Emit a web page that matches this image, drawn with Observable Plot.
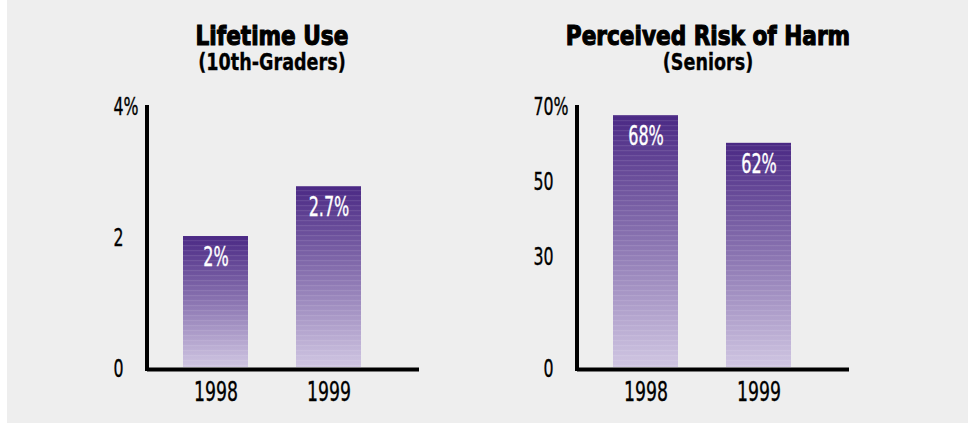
<!DOCTYPE html>
<html><head><meta charset="utf-8">
<script src="https://cdn.jsdelivr.net/npm/d3@7"></script>
<script src="https://cdn.jsdelivr.net/npm/@observablehq/plot@0.6"></script>
<style>
html,body{margin:0;padding:0;background:#fff;}
#page{position:relative;width:968px;height:424px;background:#fff;overflow:hidden;}
#bg{position:absolute;left:7px;top:0;width:961px;height:423px;background:#eeeeee;}
.panel{position:absolute;top:0;width:430px;height:424px;}
.title{position:absolute;width:600px;text-align:center;color:#000;white-space:nowrap;
  font-family:"DejaVu Sans Condensed","DejaVu Sans",sans-serif;font-stretch:condensed;font-weight:bold;transform-origin:50% 50%;}
.t1{top:21px;font-size:27px;line-height:30px;-webkit-text-stroke:1.1px #000;}
.t2{top:49px;font-size:23px;line-height:26px;-webkit-text-stroke:0.3px #000;}
</style></head>
<body>
<div id="page"><div id="bg"></div>
<svg width="0" height="0" style="position:absolute">
  <defs>
    <linearGradient id="barGrad" x1="0" y1="0" x2="0" y2="1">
      <stop offset="0" stop-color="#4a2884"/>
      <stop offset="0.5" stop-color="#8a74b1"/>
      <stop offset="1" stop-color="#d0c6e2"/>
    </linearGradient>
    <pattern id="stripes" width="8" height="5" patternUnits="userSpaceOnUse">
      <rect x="0" y="0" width="8" height="1.2" fill="#ffffff" fill-opacity="0.10"/>
    </pattern>
  </defs>
</svg>
</div>
<script>
// ---- data ----
const years = ["1998", "1999"];
const useTitle = "Lifetime Use";
const useSubtitle = "(10th-Graders)";
const useValues = [2.0, 2.76];
const useLabels = ["2%", "2.7%"];
const useTicks = [0, 2, 4];
const useMax = 4;

const riskTitle = "Perceived Risk of Harm";
const riskSubtitle = "(Seniors)";
const riskValues = [67.3, 59.9];
const riskLabels = ["68%", "62%"];
const riskTicks = [0, 30, 50, 70];
const riskMax = 70;

const FONT = '"DejaVu Sans Condensed","DejaVu Sans",sans-serif';

function squeeze(svg, label, s, color) {
  svg.querySelectorAll(`g[aria-label="${label}"] text`).forEach(el => {
    let t = el.getAttribute("transform") || "";
    const x = el.getAttribute("x");
    if (x != null && !isNaN(+x)) { t += ` translate(${x},0)`; el.removeAttribute("x"); }
    el.setAttribute("transform", t + ` scale(${s},1)`);
    el.setAttribute("stroke", color);
    el.setAttribute("stroke-width", 0.35);
  });
}

function panel(left, titleCenter, title, subtitle, values, labels, ticks, yMax) {
  const page = document.getElementById("page");
  const div = document.createElement("div");
  div.className = "panel";
  div.style.left = left + "px";
  const t1 = document.createElement("div");
  t1.className = "title t1"; t1.textContent = title;
  t1.style.left = (titleCenter - 300) + "px";
  t1.style.transform = "scaleX(0.89)";
  const t2 = document.createElement("div");
  t2.className = "title t2"; t2.textContent = subtitle;
  t2.style.left = (titleCenter - 300) + "px";
  t2.style.transform = "scaleX(0.85)";
  div.appendChild(t1); div.appendChild(t2);

  const data = years.map((y, i) => ({year: y, value: values[i], label: labels[i]}));
  const vline = (index, scales, vals, dims) => {
    const x0 = dims.marginLeft;
    return d3.create("svg:line")
      .attr("x1", x0).attr("x2", x0)
      .attr("y1", dims.marginTop).attr("y2", dims.height - dims.marginBottom + 4)
      .attr("stroke", "#000").attr("stroke-width", 4).node();
  };
  const chart = Plot.plot({
    width: 430, height: 330,
    marginLeft: 147, marginRight: 11, marginTop: 25, marginBottom: 43,
    style: {fontFamily: FONT, background: "transparent", color: "#000"},
    x: {type: "band", domain: years, paddingInner: 0.425, paddingOuter: 0.416, align: 0.383, label: null},
    y: {domain: [0, yMax], label: null},
    marks: [
      Plot.barY(data, {x: "year", y: "value", fill: "url(#barGrad)"}),
      Plot.barY(data, {x: "year", y: "value", fill: "url(#stripes)"}),
      Plot.text(data, {x: "year", y: "value", text: "label", dy: 21, fill: "white", fontSize: 27}),
      Plot.ruleY([0], {stroke: "#000", strokeWidth: 4, dy: 2}),
      vline,
      Plot.axisY({ticks: ticks, tickSize: 0, tickPadding: 24, fontSize: 24, dy: 2, tickFormat: d => String(d)}),
      Plot.axisY({ticks: [yMax], tickSize: 0, tickPadding: 24, fontSize: 24, dy: 2, textAnchor: "start", tickFormat: () => "%"}),
      Plot.axisX({tickSize: 0, tickPadding: 15, fontSize: 26, label: null})
    ]
  });
  squeeze(chart, "y-axis tick label", 0.73, "#000");
  squeeze(chart, "x-axis tick label", 0.74, "#000");
  squeeze(chart, "text", 0.66, "#fff");
  chart.style.position = "absolute";
  chart.style.top = "80px";
  chart.style.left = "0px";
  div.appendChild(chart);
  page.appendChild(div);
}

panel(0, 272, useTitle, useSubtitle, useValues, useLabels, useTicks, useMax);
panel(430, 278, riskTitle, riskSubtitle, riskValues, riskLabels, riskTicks, riskMax);
</script>
</body></html>
